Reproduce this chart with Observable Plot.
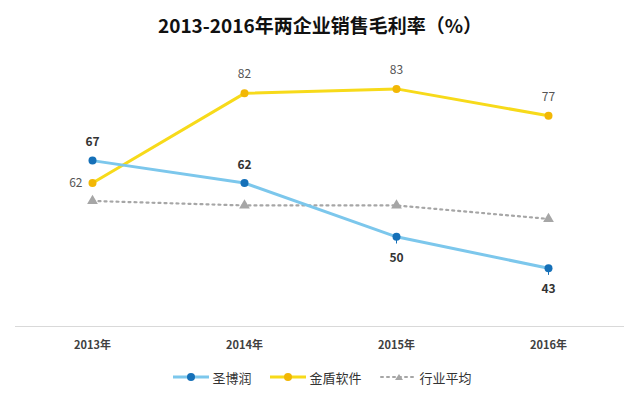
<!DOCTYPE html>
<html><head><meta charset="utf-8">
<script src="https://cdn.jsdelivr.net/npm/d3@7"></script>
<script src="https://cdn.jsdelivr.net/npm/@observablehq/plot@0.6"></script>
<style>
body{margin:0;background:#fff;font-family:"Noto Sans CJK SC","Noto Sans",sans-serif;}
#title{height:51px;line-height:50px;text-align:center;font-size:19px;font-weight:bold;color:#111;}
#legend{display:flex;justify-content:center;align-items:center;font-size:13px;color:#333;height:30px;margin-top:1px;padding-left:4px;}
#legend .item{display:flex;align-items:center;margin:0 9px;}
#legend svg{margin-right:2px;}
</style></head>
<body>
<div id="title">2013-2016年两企业销售毛利率（%）</div>
<div id="chart"></div>
<div id="legend"></div>
<script>
const years = ["2013年","2014年","2015年","2016年"];
const seriesNames = ["圣博润","金盾软件","行业平均"];
const shengborun = [67,62,50,43];
const jindun = [62,82,83,77];
const industryAvg = [58,57,57,54];

const lineColors = ["#7cc7ec","#f7da1a","#a6a6a6"];
const markColors = ["#1570b8","#f2b705","#a6a6a6"];

const sb = years.map((x,i)=>({x, y: shengborun[i], i}));
const jd = years.map((x,i)=>({x, y: jindun[i], i}));
const av = years.map((x,i)=>({x, y: industryAvg[i], i}));

const chart = Plot.plot({
  width: 640, height: 310,
  marginLeft: 15, marginRight: 16, marginTop: 6, marginBottom: 35,
  x: {type: "point", domain: years, padding: 0.5},
  y: {domain: [30, 90], axis: null},
  style: {fontFamily: '"Noto Sans CJK SC","Noto Sans",sans-serif'},
  marks: [
    Plot.ruleY([30], {stroke: "#d9d9d9", strokeWidth: 1}),
    Plot.axisX({tickSize: 0, tickPadding: 15, fontWeight: "bold", fontSize: 11, color: "#404040", label: null}),
    Plot.line(av, {x: "x", y: "y", stroke: lineColors[2], strokeWidth: 2.2, strokeDasharray: "2,4", strokeLinecap: "round"}),
    Plot.dot(av, {x: "x", y: "y", symbol: "triangle", fill: markColors[2], r: 4}),
    Plot.line(jd, {x: "x", y: "y", stroke: lineColors[1], strokeWidth: 3}),
    Plot.dot(jd, {x: "x", y: "y", fill: markColors[1], r: 4}),
    Plot.line(sb, {x: "x", y: "y", stroke: lineColors[0], strokeWidth: 3}),
    Plot.ruleX(sb.filter(d=>d.i>=2), {x: "x", y1: d=>d.y, y2: d=>d.y-1.6, stroke: "#1570b8", strokeWidth: 1}),
    Plot.dot(sb, {x: "x", y: "y", fill: markColors[0], r: 4}),
    Plot.text(sb.filter(d=>d.i<2), {x: "x", y: "y", text: d=>String(d.y), dy: -18, fontWeight: "bold", fontSize: 12, fill: "#333"}),
    Plot.text(sb.filter(d=>d.i>=2), {x: "x", y: "y", text: d=>String(d.y), dy: 21, fontWeight: "bold", fontSize: 12, fill: "#333"}),
    Plot.text(jd.filter(d=>d.i===0), {x: "x", y: "y", text: d=>String(d.y), dx: -10, textAnchor: "end", fontSize: 12, fill: "#555"}),
    Plot.text(jd.filter(d=>d.i>0), {x: "x", y: "y", text: d=>String(d.y), dy: -19, fontSize: 12, fill: "#555"})
  ]
});
document.getElementById("chart").appendChild(chart);

const legend = document.getElementById("legend");
seriesNames.forEach((name, k) => {
  const item = document.createElement("div");
  item.className = "item";
  const dash = k === 2 ? ' stroke-dasharray="2,4" stroke-linecap="round" stroke-width="2"' : ' stroke-width="3"';
  const mark = k === 2
    ? `<path d="M19,7 L23,13 L15,13 Z" fill="${markColors[k]}"/>`
    : `<circle cx="19" cy="10" r="4" fill="${markColors[k]}"/>`;
  item.innerHTML = `<svg width="38" height="20"><line x1="1" y1="10" x2="37" y2="10" stroke="${lineColors[k]}"${dash}/>${mark}</svg><span>${name}</span>`;
  legend.appendChild(item);
});
</script>
</body></html>
